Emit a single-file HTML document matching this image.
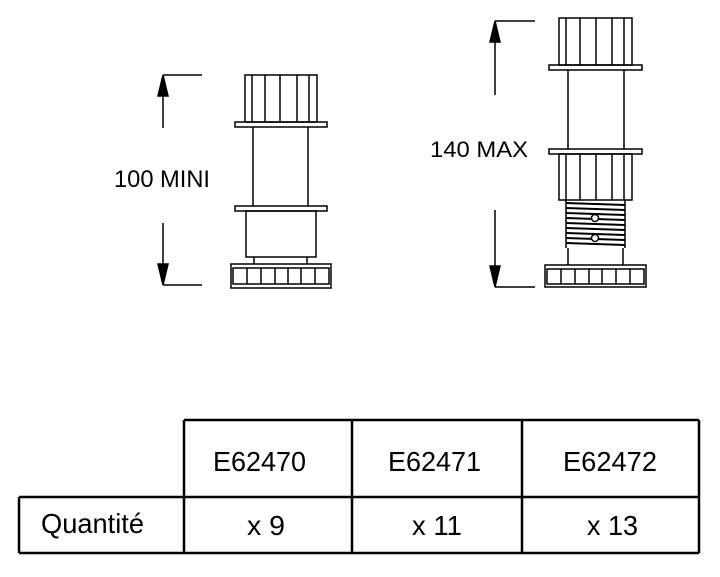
<!DOCTYPE html>
<html><head><meta charset="utf-8"><style>html,body{margin:0;padding:0;background:#fff}svg{display:block}</style></head>
<body>
<svg width="720" height="577" viewBox="0 0 720 577" xmlns="http://www.w3.org/2000/svg" font-family="Liberation Sans, Arial, sans-serif" fill="none" stroke="#000" stroke-width="1.5">
<!-- LEFT dimension -->
<line x1="163" y1="75" x2="202" y2="75"/>
<line x1="163" y1="92" x2="163" y2="128"/>
<polygon points="163,75 158,96 168,96" fill="#000"/>
<line x1="163" y1="223" x2="163" y2="268"/>
<polygon points="163,285 158,264 168,264" fill="#000"/>
<line x1="163" y1="285" x2="202" y2="285"/>
<text x="114" y="187" font-size="24" fill="#000" stroke="none" textLength="96" lengthAdjust="spacingAndGlyphs">100 MINI</text>
<!-- LEFT part -->
<rect x="245" y="75" width="72" height="47"/>
<line x1="252" y1="75" x2="252" y2="122"/><line x1="265" y1="75" x2="265" y2="122"/><line x1="280" y1="75" x2="280" y2="122"/><line x1="297" y1="75" x2="297" y2="122"/><line x1="309" y1="75" x2="309" y2="122"/>
<rect x="235" y="122" width="92" height="5"/>
<line x1="253" y1="127" x2="253" y2="206"/><line x1="308" y1="127" x2="308" y2="206"/>
<rect x="235" y="206" width="92" height="5"/>
<rect x="246" y="211" width="70" height="46"/>
<line x1="254" y1="257" x2="254" y2="264"/><line x1="307" y1="257" x2="307" y2="264"/>
<rect x="231" y="264" width="100" height="24"/>
<rect x="233" y="268" width="96" height="16"/>
<line x1="247" y1="268" x2="247" y2="284"/><line x1="261" y1="268" x2="261" y2="284"/><line x1="275" y1="268" x2="275" y2="284"/><line x1="288" y1="268" x2="288" y2="284"/><line x1="301" y1="268" x2="301" y2="284"/><line x1="315" y1="268" x2="315" y2="284"/>
<!-- RIGHT dimension -->
<line x1="495" y1="21" x2="535" y2="21"/>
<line x1="495" y1="38" x2="495" y2="95"/>
<polygon points="495,21 490,42 500,42" fill="#000"/>
<line x1="495" y1="210" x2="495" y2="270"/>
<polygon points="495,287 490,266 500,266" fill="#000"/>
<line x1="495" y1="287" x2="535" y2="287"/>
<text x="430" y="157" font-size="22" fill="#000" stroke="none" textLength="98" lengthAdjust="spacingAndGlyphs">140 MAX</text>
<!-- RIGHT part -->
<rect x="559" y="18" width="73" height="47"/>
<line x1="566" y1="18" x2="566" y2="65"/><line x1="580" y1="18" x2="580" y2="65"/><line x1="596" y1="18" x2="596" y2="65"/><line x1="612" y1="18" x2="612" y2="65"/><line x1="624" y1="18" x2="624" y2="65"/>
<rect x="549" y="65" width="93" height="5"/>
<line x1="568" y1="70" x2="568" y2="149"/><line x1="624" y1="70" x2="624" y2="149"/>
<rect x="549" y="149" width="93" height="5"/>
<rect x="559" y="154" width="73" height="46"/>
<line x1="566" y1="154" x2="566" y2="200"/><line x1="580" y1="154" x2="580" y2="200"/><line x1="596" y1="154" x2="596" y2="200"/><line x1="612" y1="154" x2="612" y2="200"/><line x1="624" y1="154" x2="624" y2="200"/>
<g stroke-width="2">
<path d="M566 203 L625 205 M566 208 L625 210 M566 213 L625 215 M566 218 L625 220 M566 223 L625 225 M566 228 L625 230 M566 233 L625 235 M566 238 L625 240 M566 243 L625 245"/>
</g>
<line x1="566" y1="200" x2="566" y2="248"/><line x1="625" y1="200" x2="625" y2="248"/>
<circle cx="595" cy="218" r="3.5" fill="#fff"/><circle cx="595" cy="238" r="3.5" fill="#fff"/>
<line x1="568" y1="248" x2="568" y2="265"/><line x1="623" y1="248" x2="623" y2="265"/>
<rect x="545" y="265" width="101" height="22"/>
<rect x="547" y="269" width="97" height="15"/>
<line x1="561" y1="269" x2="561" y2="284"/><line x1="575" y1="269" x2="575" y2="284"/><line x1="589" y1="269" x2="589" y2="284"/><line x1="602" y1="269" x2="602" y2="284"/><line x1="616" y1="269" x2="616" y2="284"/><line x1="630" y1="269" x2="630" y2="284"/>
<!-- TABLE -->
<g stroke-width="2.5">
<line x1="184" y1="420" x2="699" y2="420"/>
<line x1="19" y1="497" x2="699" y2="497"/>
<line x1="19" y1="553" x2="699" y2="553"/>
<line x1="19" y1="497" x2="19" y2="553"/>
<line x1="184" y1="420" x2="184" y2="553"/>
<line x1="352" y1="420" x2="352" y2="553"/>
<line x1="522" y1="420" x2="522" y2="553"/>
<line x1="699" y1="420" x2="699" y2="553"/>
</g>
<g fill="#000" stroke="none" font-size="28">
<text x="213" y="471" textLength="93" lengthAdjust="spacingAndGlyphs">E62470</text>
<text x="388" y="471" textLength="93" lengthAdjust="spacingAndGlyphs">E62471</text>
<text x="563" y="471" textLength="94" lengthAdjust="spacingAndGlyphs">E62472</text>
<text x="41" y="533" textLength="103" lengthAdjust="spacingAndGlyphs">Quantité</text>
<text x="247" y="535" textLength="38" lengthAdjust="spacingAndGlyphs">x 9</text>
<text x="412" y="535" textLength="50" lengthAdjust="spacingAndGlyphs">x 11</text>
<text x="587" y="535" textLength="51" lengthAdjust="spacingAndGlyphs">x 13</text>
</g>
</svg>
</body></html>
